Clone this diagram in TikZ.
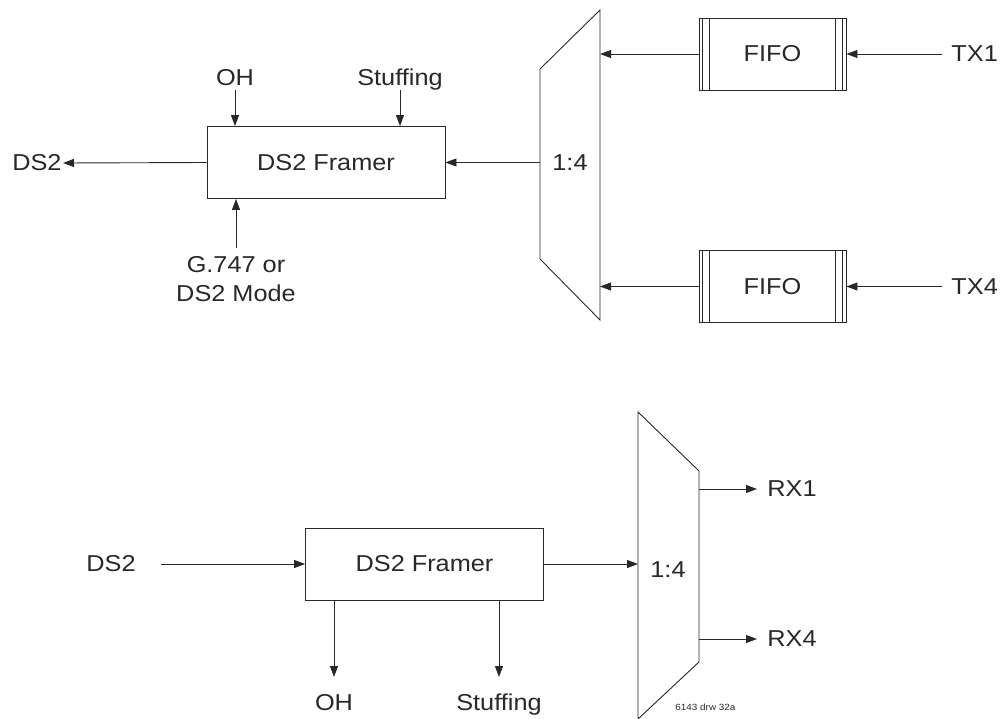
\documentclass[tikz,border=0pt]{standalone}
\usepackage{fontspec}
\setmainfont[FakeStretch=1.1]{Liberation Sans}
\usetikzlibrary{arrows.meta,calc}
\definecolor{ink}{RGB}{40,40,40}
\begin{document}
\begin{tikzpicture}[x=1pt,y=-1pt, line width=0.9pt, color=ink,
  arr/.style={-{Triangle[length=11pt,width=8pt]}},
  lbl/.style={inner sep=0pt, font=\fontsize{23}{29}\selectfont},
  framer/.style={draw, minimum width=238pt, minimum height=72pt, inner sep=0pt,
                 font=\fontsize{23}{29}\selectfont},
  fifo/.style={draw, minimum width=147pt, minimum height=72pt, inner sep=0pt,
               font=\fontsize{23}{29}\selectfont,
    path picture={
      \draw ([xshift=3.6pt]path picture bounding box.north west) -- ([xshift=3.6pt]path picture bounding box.south west);
      \draw ([xshift=10.5pt]path picture bounding box.north west) -- ([xshift=10.5pt]path picture bounding box.south west);
      \draw ([xshift=-3.6pt]path picture bounding box.north east) -- ([xshift=-3.6pt]path picture bounding box.south east);
      \draw ([xshift=-10.5pt]path picture bounding box.north east) -- ([xshift=-10.5pt]path picture bounding box.south east);
    }},
  muxshape/.style={line join=miter}]
\useasboundingbox (0,0) rectangle (1000,719);

% ---------- top (transmit) ----------
\coordinate (m1tl) at (540,69);
\coordinate (m1tr) at (600,10);
\coordinate (m1br) at (600,320);
\coordinate (m1bl) at (540,259);
\draw[muxshape] (m1tl) -- (m1tr) -- (m1br) -- (m1bl) -- cycle;
\node[lbl] (m1) at (570,163) {1:4};

\node[framer] (fr1) at (326,162.5) {DS2 Framer};
\node[fifo] (fifo1) at (772.5,54) {FIFO};
\node[fifo] (fifo2) at (772.5,286.5) {FIFO};
\node[lbl, anchor=west] (tx1) at (951,54) {TX1};
\node[lbl, anchor=west] (tx4) at (951,286.5) {TX4};
\node[lbl, anchor=east] (ds2a) at (62,163) {DS2};
\node[lbl, anchor=base] (oh1) at (235,86) {OH};
\node[lbl, anchor=base] (st1) at (400,86) {Stuffing};
\node[lbl, anchor=north, align=center] (g747) at (236,256) {G.747 or\\DS2 Mode};

\draw[arr] (fifo1.west) -- (fifo1.west -| m1tr);
\draw[arr] (fifo2.west) -- (fifo2.west -| m1tr);
\draw[arr] ([xshift=-9pt]tx1.west) -- (fifo1.east);
\draw[arr] ([xshift=-9pt]tx4.west) -- (fifo2.east);
\draw[arr] (fr1.east -| m1tl) -- (fr1.east);
\draw[arr] (fr1.west) -- ([xshift=1pt]ds2a.east);
\draw[arr] ([yshift=-4pt]oh1.base) -- (oh1.base |- fr1.north);
\draw[arr] ([yshift=-4pt]st1.base) -- (st1.base |- fr1.north);
\draw[arr] ([yshift=8pt]g747.north) -- (g747.north |- fr1.south);

% ---------- bottom (receive) ----------
\coordinate (m2tl) at (638,412);
\coordinate (m2tr) at (699,471);
\coordinate (m2br) at (699,662);
\coordinate (m2bl) at (638,719);
\draw[muxshape] (m2tl) -- (m2tr) -- (m2br) -- (m2bl) -- cycle;
\node[lbl] (m2) at (668,570) {1:4};

\node[lbl] (ds2b) at (111,564) {DS2};
\node[framer] (fr2) at (424.5,564) {DS2 Framer};
\node[lbl, anchor=base] (oh2) at (334,710) {OH};
\node[lbl, anchor=base] (st2) at (499,710) {Stuffing};
\node[lbl, anchor=west] (rx1) at (767,489) {RX1};
\node[lbl, anchor=west] (rx4) at (767,639) {RX4};
\node[inner sep=0pt, anchor=base west, font=\fontsize{9}{10}\selectfont] (drw) at (675,710) {6143 drw 32a};

\draw[arr] ([xshift=25pt]ds2b.east) -- (fr2.west);
\draw[arr] (fr2.east) -- (fr2.east -| m2tl);
\draw[arr] (oh2.base |- fr2.south) -- ([yshift=33pt]oh2.base);
\draw[arr] (st2.base |- fr2.south) -- ([yshift=33pt]st2.base);
\draw[arr] (rx1.west -| m2tr) -- ([xshift=-10pt]rx1.west);
\draw[arr] (rx4.west -| m2tr) -- ([xshift=-10pt]rx4.west);
\end{tikzpicture}
\end{document}
